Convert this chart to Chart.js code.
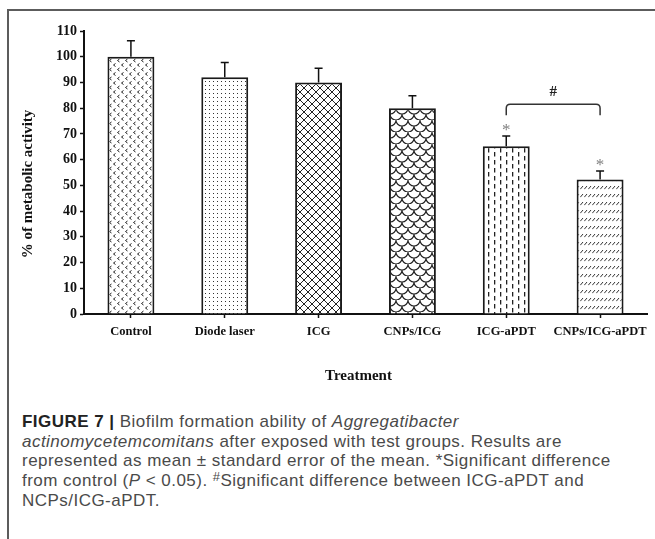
<!DOCTYPE html>
<html><head><meta charset="utf-8">
<script src="https://cdn.jsdelivr.net/npm/chart.js@4.4.1/dist/chart.umd.min.js"></script>
<style>
html,body{margin:0;padding:0;background:#fff;width:655px;height:539px;overflow:hidden;position:relative;}
#frame{position:absolute;left:7px;top:9px;width:680px;height:560px;border-left:2px solid #5c5c5c;border-top:2px solid #5c5c5c;}
#wrap{position:absolute;left:0;top:0;width:655px;height:400px;}
#cap{position:absolute;left:22px;top:412px;font-family:"Liberation Sans",Arial,sans-serif;font-size:17px;line-height:19.5px;color:#4a4a4a;white-space:nowrap;}
#cap .ln{display:block;}
#cap b{color:#222;}
#cap sup{font-size:13px;vertical-align:0;position:relative;top:-5px;}
</style></head><body>
<div id="frame"></div>
<div id="wrap"><canvas id="c" width="655" height="400"></canvas></div>
<div id="cap">
<span class="ln"><b>FIGURE 7 |</b> Biofilm formation ability of <i>Aggregatibacter</i></span>
<span class="ln"><i>actinomycetemcomitans</i> after exposed with test groups. Results are</span>
<span class="ln" id="l3">represented as mean ± standard error of the mean. *Significant difference</span>
<span class="ln">from control (<i>P</i> &lt; 0.05). <sup>#</sup>Significant difference between ICG-aPDT and</span>
<span class="ln">NCPs/ICG-aPDT.</span>
</div>
<script>
// ---- data ----
const categories = ['Control', 'Diode laser', 'ICG', 'CNPs/ICG', 'ICG-aPDT', 'CNPs/ICG-aPDT'];
const means = [100, 92, 90, 80, 65.2, 52.3];
const errors = [6.2, 5.8, 5.5, 4.8, 4.0, 3.3];
const marks = ['', '', '', '', '*', '*'];
const yTicks = [0, 10, 20, 30, 40, 50, 60, 70, 80, 90, 100, 110];
const bracketFrom = 4, bracketTo = 5, bracketTop = 81.5, bracketEnd = 77.3, bracketLabel = '#';
const patternKinds = ['chevron', 'dots', 'cross', 'scales', 'vdash', 'slash'];

// ---- fit caption letter-spacing ----
(function(){
  const l3 = document.getElementById('l3');
  const r = document.createRange(); r.selectNodeContents(l3);
  const w = r.getBoundingClientRect().width;
  const n = l3.textContent.length;
  const ls = (588 - w) / (n - 1);
  document.getElementById('cap').style.letterSpacing = ls.toFixed(2) + 'px';
})();

function makePattern(kind){
  const c = document.createElement('canvas');
  const sizes = {chevron:[8,9], dots:[4,4], cross:[8,8], scales:[12,12], vdash:[12,8], slash:[4,8]};
  const [w,h] = sizes[kind];
  c.width = w; c.height = h;
  const g = c.getContext('2d');
  g.fillStyle = '#fff'; g.fillRect(0,0,w,h);
  g.strokeStyle = '#222'; g.fillStyle = '#222'; g.lineWidth = 1;
  g.beginPath();
  if (kind === 'chevron'){
    g.strokeStyle = '#222';
    g.moveTo(3.5,0.5); g.lineTo(1.5,2); g.lineTo(3.5,3.5);
    g.moveTo(7.5,5); g.lineTo(5.5,6.5); g.lineTo(7.5,8);
    g.stroke();
  } else if (kind === 'dots'){
    g.fillStyle = '#333'; g.fillRect(1,1,1,1);
  } else if (kind === 'cross'){
    g.moveTo(0,0); g.lineTo(w,h); g.moveTo(0,h); g.lineTo(w,0);
    g.moveTo(-1,1); g.lineTo(1,-1); g.moveTo(w-1,h+1); g.lineTo(w+1,h-1);
    g.stroke();
  } else if (kind === 'scales'){
    g.lineWidth = 1.1;
    g.arc(6,0,6,0,Math.PI);
    g.moveTo(6,6); g.arc(0,6,6,0,Math.PI/2);
    g.moveTo(12,12); g.arc(12,6,6,Math.PI/2,Math.PI);
    g.stroke();
  } else if (kind === 'vdash'){
    g.fillRect(2,0,1.3,4.5); g.fillRect(8,4,1.3,4.5); g.fillRect(8,-4,1.3,4.5);
  } else if (kind === 'slash'){
    g.strokeStyle = '#333';
    g.moveTo(0.3,5.2); g.lineTo(3,2); g.stroke();
  }
  return g.createPattern(c,'repeat');
}

const annot = {
  id: 'annot',
  afterDatasetsDraw(chart){
    const {ctx, scales:{x, y}} = chart;
    ctx.save();
    ctx.strokeStyle = '#111'; ctx.lineWidth = 1.5;
    means.forEach((m,i) => {
      const cx = x.getPixelForValue(i);
      const y0 = y.getPixelForValue(m), y1 = y.getPixelForValue(m + errors[i]);
      ctx.beginPath();
      ctx.moveTo(cx, y0); ctx.lineTo(cx, y1);
      ctx.moveTo(cx - 4, y1); ctx.lineTo(cx + 4, y1);
      ctx.stroke();
      if (marks[i]){
        ctx.fillStyle = '#808080';
        ctx.font = '17px "Liberation Serif"';
        ctx.textAlign = 'center'; ctx.textBaseline = 'middle';
        ctx.fillText(marks[i], cx, y1 - 5);
      }
    });
    const x1 = x.getPixelForValue(bracketFrom), x2 = x.getPixelForValue(bracketTo);
    const yt = y.getPixelForValue(bracketTop), ye = y.getPixelForValue(bracketEnd);
    const r = 4;
    ctx.strokeStyle = '#333'; ctx.lineWidth = 1.5;
    ctx.beginPath();
    ctx.moveTo(x1, ye); ctx.lineTo(x1, yt + r); ctx.quadraticCurveTo(x1, yt, x1 + r, yt);
    ctx.lineTo(x2 - r, yt); ctx.quadraticCurveTo(x2, yt, x2, yt + r); ctx.lineTo(x2, ye);
    ctx.stroke();
    ctx.fillStyle = '#222';
    ctx.font = 'bold 15px "Liberation Serif"';
    ctx.textAlign = 'center'; ctx.textBaseline = 'middle';
    ctx.fillText(bracketLabel, (x1 + x2) / 2, yt - 12);
    // axis titles
    ctx.font = 'bold 15px "Liberation Serif"';
    ctx.fillStyle = '#111';
    ctx.fillText('Treatment', 358.5, 376);
    ctx.translate(28, 184);
    ctx.rotate(-Math.PI / 2);
    ctx.fillText('% of metabolic activity', 0, 0);
    ctx.restore();
  }
};

const tickFont = {family: '"Liberation Serif", "Times New Roman", serif', weight: 'bold', size: 12.5};

new Chart(document.getElementById('c'), {
  type: 'bar',
  data: {
    labels: categories,
    datasets: [{
      data: means,
      backgroundColor: patternKinds.map(makePattern),
      borderColor: '#1a1a1a',
      borderWidth: 2,
      barPercentage: 0.5,
      categoryPercentage: 1
    }]
  },
  options: {
    responsive: false,
    animation: false,
    devicePixelRatio: 1,
    layout: {padding: {left: 10, right: 8, top: 31, bottom: 16}},
    plugins: {legend: {display: false}, tooltip: {enabled: false}},
    scales: {
      x: {
        grid: {display: true, drawOnChartArea: false, drawTicks: true, tickLength: 4, tickWidth: 1.5, color: '#111', offset: false},
        border: {display: true, color: '#111', width: 2},
        ticks: {font: tickFont, color: '#111', padding: 6, maxRotation: 0, autoSkip: false},
        afterFit(s){ s.height = 70; }
      },
      y: {
        min: 0, max: 110,
        afterBuildTicks(s){ s.ticks = yTicks.map(v => ({value: v})); },
        grid: {display: true, drawOnChartArea: false, drawTicks: true, tickLength: 4, tickWidth: 1.5, color: '#111'},
        border: {display: true, color: '#111', width: 2},
        ticks: {font: {...tickFont, size: 14}, color: '#111', padding: 3},
        afterFit(s){ s.width = 74; }
      }
    }
  },
  plugins: [annot]
});
</script>
</body></html>
